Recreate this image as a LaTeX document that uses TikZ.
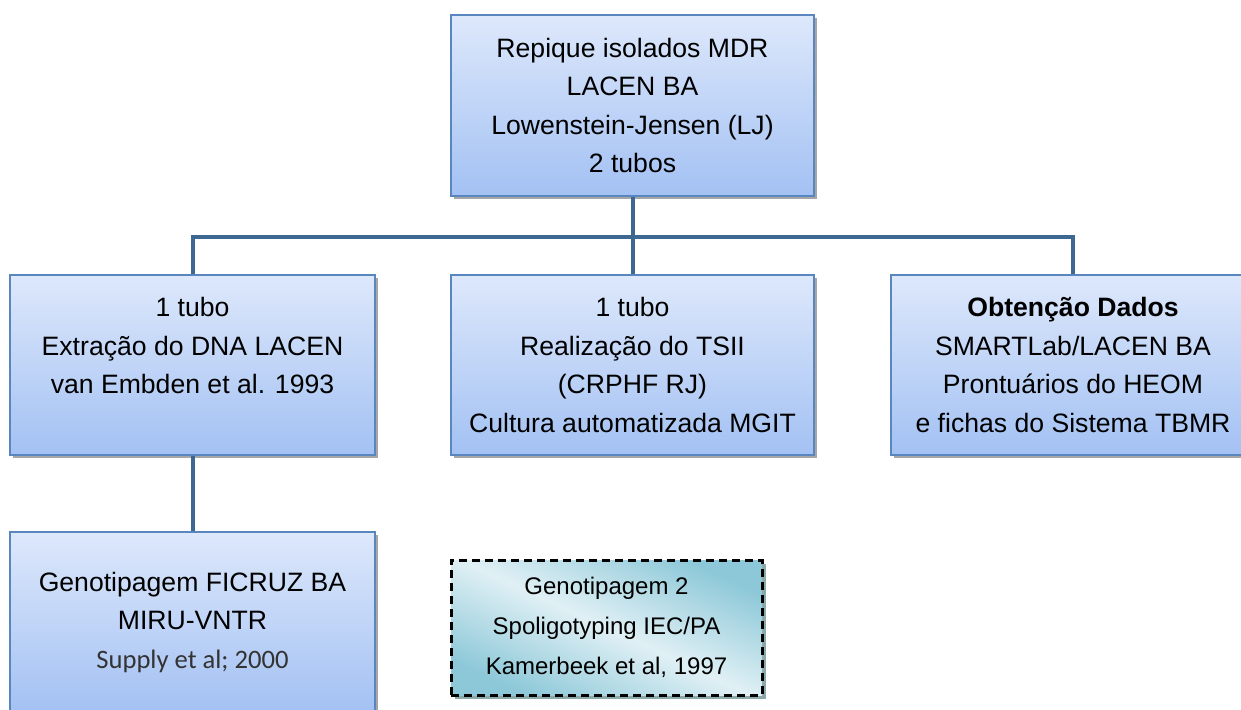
\documentclass[tikz,border=0pt]{standalone}
\usepackage{fontspec}
\setmainfont{Liberation Sans}
\newfontfamily\calib{Carlito}
\usetikzlibrary{shadows}
\definecolor{boxtop}{HTML}{DDE8FB}
\definecolor{boxbot}{HTML}{A3C1F3}
\definecolor{boxline}{HTML}{5A86BF}
\definecolor{connc}{HTML}{3D6891}
\definecolor{tealdark}{HTML}{8DC8D8}
\definecolor{teallight}{HTML}{E0F0F5}
\definecolor{suppc}{HTML}{333333}
\tikzset{
  bluebox/.style={draw=boxline, line width=1.5pt, top color=boxtop, bottom color=boxbot,
    align=center, inner sep=0pt, font=\fontsize{26.6}{38.5}\selectfont,
    drop shadow={shadow xshift=3pt, shadow yshift=-3pt, fill=black, opacity=0.35}},
  dashbox/.style={draw=black, line width=3pt, dash pattern=on 8pt off 5pt,
    top color=tealdark, bottom color=tealdark, middle color=teallight, shading angle=-25,
    align=center, inner sep=0pt, font=\fontsize{24}{40}\selectfont,
    drop shadow={shadow xshift=4pt, shadow yshift=-4pt, fill=black!50!teal, opacity=0.45}},
  conn/.style={draw=connc, line width=4pt, line join=miter}
}
\begin{document}
\begin{tikzpicture}[x=1pt,y=-1pt]
\useasboundingbox (0,0) rectangle (1241,709);
\node[bluebox, minimum width=363pt, minimum height=181pt] (top) at (632.5,105.5)
  {Repique isolados MDR\\LACEN BA\\Lowenstein-Jensen (LJ)\\2 tubos};
\node[bluebox, minimum width=365pt, minimum height=180pt] (left) at (192.5,365)
  {1 tubo\\Extração do DNA LACEN\\van Embden et al. 1993\\\phantom{C}};
\node[bluebox, minimum width=363pt, minimum height=180pt] (mid) at (632.5,365)
  {1 tubo\\Realização do TSII\\(CRPHF RJ)\\Cultura automatizada MGIT};
\node[bluebox, minimum width=364pt, minimum height=180pt] (right) at (1073,365)
  {\textbf{Obtenção Dados}\\SMARTLab/LACEN BA\\Prontuários do HEOM\\e fichas do Sistema TBMR};
\node[bluebox, minimum width=365pt, minimum height=180pt] (bl) at (192.5,622)
  {Genotipagem FICRUZ BA\\MIRU-VNTR\\{\calib\color{suppc}Supply et al; 2000}};
\node[dashbox, minimum width=311pt, minimum height=135pt] (geno2) at (606.5,627.5)
  {Genotipagem 2\\Spoligotyping IEC/PA\\Kamerbeek et al, 1997};
\coordinate (bus) at (632.5,237);
\draw[conn] (top.south) -- (mid.north);
\draw[conn] (left.north) -- (left.north |- bus) -- (right.north |- bus) -- (right.north);
\draw[conn] (left.south) -- (bl.north);
\end{tikzpicture}
\end{document}
